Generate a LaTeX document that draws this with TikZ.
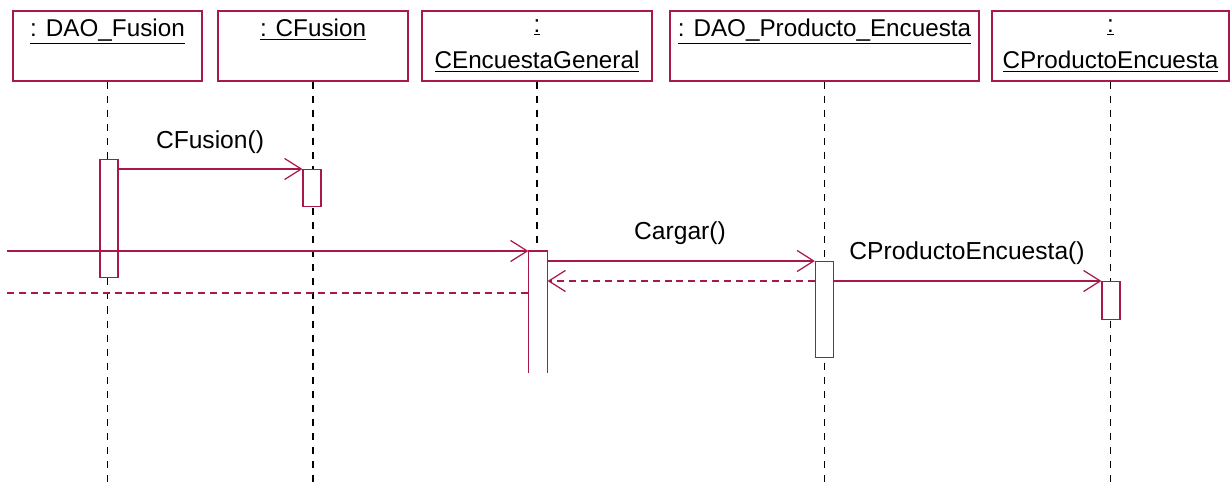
\documentclass[tikz,border=0pt]{standalone}
\usepackage{fontspec}
\setmainfont{Liberation Sans}
\usetikzlibrary{arrows.meta}
\definecolor{umlred}{RGB}{168,24,72}
\tikzset{
    obj/.style={draw=umlred,line width=0.7pt,minimum height=1.4cm,align=center,inner sep=0pt,font=\fontsize{13.8}{19}\selectfont,execute at begin node=\rule{0pt}{15pt}},
    act/.style={draw=umlred,fill=white,line width=0.7pt,minimum width=0.36cm,inner sep=0pt,anchor=north},
    life/.style={line width=0.9pt,dash pattern=on 4pt off 4pt},
    msg/.style={umlred,line width=0.7pt,-{Straight Barb[length=9.5pt,width=12pt]}},
    ret/.style={msg,dash pattern=on 4pt off 2.8pt},
    lbl/.style={font=\fontsize{14}{17}\selectfont,inner sep=0pt},
  }
\begin{document}
\begin{tikzpicture}[x=0.02cm,y=-0.02cm]
				  %coordonnees en pixels, y vers le bas
				  \useasboundingbox (0,0) rectangle (1230,483);
				  \node[obj,minimum width=3.78cm] (h1) at (107.5,46) {\underline{: DAO\_Fusion}\\[2pt]~};
				  \node[obj,minimum width=3.8cm] (h2) at (313,46) {\underline{: CFusion}\\[2pt]~};
				  \node[obj,minimum width=4.6cm] (h3) at (537,46) {\underline{:}\\[2pt]\underline{CEncuestaGeneral}};
				  \node[obj,minimum width=6.18cm] (h4) at (824.5,46) {\underline{: DAO\_Producto\_Encuesta}\\[2pt]~};
				  \node[obj,minimum width=4.74cm] (h5) at (1110.5,46) {\underline{:}\\[2pt]\underline{CProductoEncuesta}};
				  
				  \coordinate(bot) at (0,483);
				  \coordinate(src) at (7,251);
				  \coordinate(src2) at (7,293);
				  \draw[life] (h1) -- (h1 |- bot);
				  \draw[life] (h2) -- (h2 |- bot);
				  \draw[life] (h3) -- (h3 |- src);
				  \draw[life] (h4) -- (h4 |- bot);
				  \draw[life] (h5) -- (h5 |- bot);
				  
				  %activations
				  \node[act,minimum height=2.36cm] (a1) at (109,159) {};
				  \node[act,minimum height=0.74cm] (a2) at (312,169) {};
				  \node[act,draw=none,minimum height=2.42cm] (a3) at (538,251) {};
				  \draw[umlred,line width=0.7pt] (a3.south west) -- (a3.north west) -- (a3.north east) -- (a3.south east);
				  \node[act,minimum height=1.92cm] (a4) at (824.5,261) {};
				  \node[act,minimum height=0.76cm] (a5) at (1111,281) {};
				  
				  %messages
				  \draw[msg] (a1.east |- a2.north) -- (a2.north west);
				  \draw[msg] (src) -- (a3.north west);
				  \draw[umlred,line width=0.7pt,dash pattern=on 4pt off 2.8pt] (src2) -- (a3.west |- src2);
				  \draw[msg] (a3.east |- a4.north) -- (a4.north west);
				  \draw[ret] (a4.west |- a5.north) -- (a3.east |- a5.north);
				  \draw[msg] (a4.east |- a5.north) -- (a5.north west);
				  
				  \node[lbl] (m1) at (210,142) {CFusion()};
				  \node[lbl] (m2) at (680,233) {Cargar()};
				  \node[lbl] (m3) at (967,253) {CProductoEncuesta()};
				  \end{tikzpicture}
\end{document}
